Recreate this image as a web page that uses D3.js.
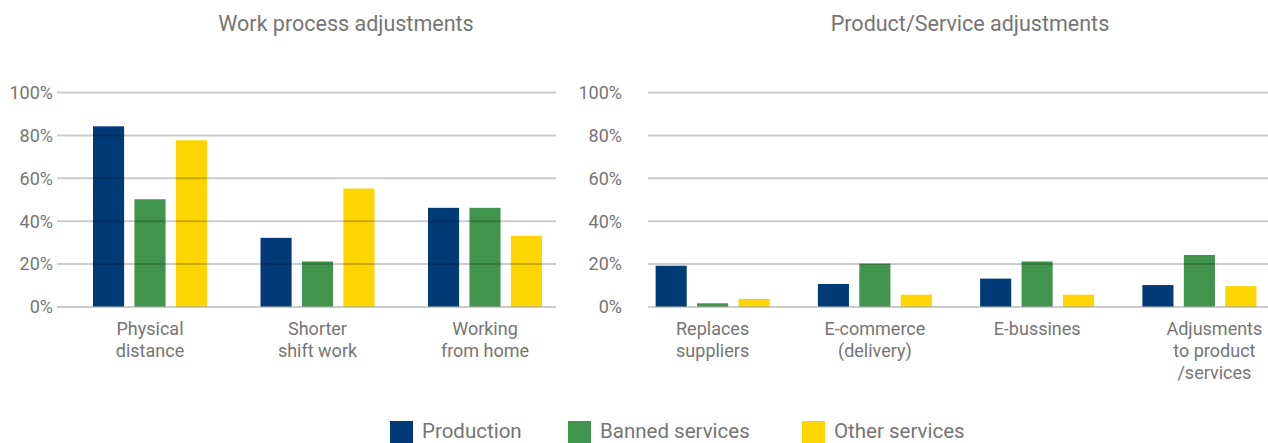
<!DOCTYPE html>
<html>
<head>
<meta charset="utf-8">
<script src="https://cdn.jsdelivr.net/npm/d3@7"></script>
<style>
  html, body { margin: 0; padding: 0; background: #fff; }
  svg { display: block; font-family: Roboto, "Noto Sans", sans-serif; }
</style>
</head>
<body>
<svg id="chart" width="1268" height="443"></svg>
<script>
// Share of firms (%) by sector for each adjustment type
const seriesNames = ["Production", "Banned services", "Other services"];
const seriesColors = ["#003b78", "#41944b", "#fdd500"];

const workCategories = ["Physical\ndistance", "Shorter\nshift work", "Working\nfrom home"];
const workProduction = [84, 32, 46];
const workBanned = [50, 21, 46];
const workOther = [77.5, 55, 33];

const productCategories = ["Replaces\nsuppliers", "E-commerce\n(delivery)", "E-bussines", "Adjusments\nto product\n/services"];
const productProduction = [19, 10.5, 13, 10];
const productBanned = [1.5, 20, 21, 24];
const productOther = [3.5, 5.5, 5.5, 9.5];

const yTicks = [0, 20, 40, 60, 80, 100];

const textColor = "#757575";
const svg = d3.select("#chart");

const y = d3.scaleLinear().domain([0, 100]).range([306.5, 92]);

function drawPanel(opts) {
  const g = svg.append("g");
  const x = d3.scaleBand().domain(opts.categories).range(opts.bandRange).padding(0);
  const groupWidth = 114;
  const xs = d3.scaleBand().domain(seriesNames)
    .range([(x.bandwidth() - groupWidth) / 2, (x.bandwidth() + groupWidth) / 2])
    .paddingInner(0.25).paddingOuter(0);

  // title
  g.append("text")
    .attr("x", opts.titleX).attr("y", 31)
    .attr("text-anchor", "middle")
    .attr("fill", textColor)
    .style("font-size", "21.5px")
    .text(opts.title);

  // bars
  const rows = opts.categories.map((c, i) => ({
    cat: c,
    values: seriesNames.map((s, k) => ({ series: s, value: opts.values[k][i] }))
  }));
  const groups = g.selectAll("g.group").data(rows).join("g")
    .attr("class", "group")
    .attr("transform", d => `translate(${x(d.cat)},0)`);
  groups.selectAll("rect").data(d => d.values).join("rect")
    .attr("x", d => xs(d.series))
    .attr("width", xs.bandwidth())
    .attr("y", d => y(d.value))
    .attr("height", d => y(0) - y(d.value))
    .attr("fill", (d, k) => seriesColors[k]);

  // gridlines drawn above the bars
  const axis = d3.axisLeft(y).tickValues(yTicks)
    .tickSize(-(opts.gridRange[1] - opts.gridRange[0]))
    .tickFormat(d => d + "%");
  const ax = g.append("g")
    .attr("transform", `translate(${opts.gridRange[0]},0)`)
    .call(axis);
  ax.select(".domain").remove();
  ax.selectAll(".tick line")
    .attr("stroke", "#000").attr("stroke-opacity", 0.2).attr("stroke-width", 2);
  ax.selectAll(".tick text")
    .attr("x", opts.labelRight - opts.gridRange[0])
    .attr("dy", "0.35em")
    .attr("fill", textColor)
    .style("font-size", "18px")
    .style("font-family", "Roboto, sans-serif");

  // category labels (multi-line, pushed inward near the right edge)
  const labels = g.selectAll("text.cat").data(opts.categories).join("text")
    .attr("class", "cat")
    .attr("text-anchor", "middle")
    .attr("fill", textColor)
    .style("font-size", "18px");
  labels.each(function (d, i) {
    const t = d3.select(this);
    d.split("\n").forEach((line, j) => {
      t.append("tspan").attr("y", 335 + j * 22).text(line);
    });
    let maxW = 0;
    t.selectAll("tspan").each(function () { maxW = Math.max(maxW, this.getComputedTextLength()); });
    const shift = (opts.labelShift && opts.labelShift[i]) || 0;
    const cx = Math.min(x(d) + x.bandwidth() / 2 + shift, opts.labelLimit - maxW / 2);
    t.selectAll("tspan").attr("x", cx);
  });
}

drawPanel({
  title: "Work process adjustments",
  titleX: 346,
  categories: workCategories,
  values: [workProduction, workBanned, workOther],
  bandRange: [66.25, 568.75],
  gridRange: [57, 556],
  labelRight: 53,
  labelLimit: 1264
});

drawPanel({
  title: "Product/Service adjustments",
  titleX: 970,
  categories: productCategories,
  values: [productProduction, productBanned, productOther],
  bandRange: [631.5, 1280.5],
  gridRange: [648, 1268],
  labelRight: 622,
  labelLimit: 1265,
  labelShift: [0, 0, 0, 15]
});

// legend
const legendX = [390, 568, 802];
const legend = svg.append("g").selectAll("g").data(seriesNames).join("g")
  .attr("transform", (d, i) => `translate(${legendX[i]},0)`);
legend.append("rect")
  .attr("x", 0).attr("y", 421).attr("width", 23).attr("height", 22)
  .attr("fill", (d, i) => seriesColors[i]);
legend.append("text")
  .attr("x", 32).attr("y", 438)
  .attr("fill", textColor)
  .style("font-size", "20.5px")
  .text(d => d);
</script>
</body>
</html>
